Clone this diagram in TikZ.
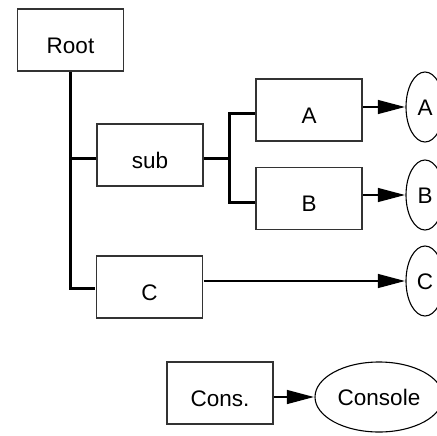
\documentclass[tikz,border=0pt]{standalone}
\usepackage{fontspec}
\setmainfont{Liberation Sans}
\usetikzlibrary{arrows.meta,shapes.geometric}

% the drawing is laid out in units of 1pt and enlarged twice over;
% line widths and tips are given at the enlarged size
\tikzset{
  box/.style={draw=black!80, line width=2.4pt, rectangle, inner sep=0pt,
    minimum width=106pt, minimum height=62pt,
    text height=26.6pt, text depth=0pt},
  oval/.style={draw=black, line width=2.2pt, ellipse, inner sep=0pt,
    minimum width=38pt, minimum height=70pt,
    text height=16pt, text depth=0pt},
  tree/.style={draw=black, line width=6pt, line join=miter},
  link/.style={draw=black, line width=2.4pt,
    -{Triangle[length=54pt, width=28pt]}}
}

\begin{document}
\begin{tikzpicture}[x=1pt, y=-1pt, scale=2,
    every node/.style={transform shape, font=\fontsize{22.5pt}{27pt}\selectfont}]
  \useasboundingbox (0,0) rectangle (437,435);

  % boxes
  \node[box] (root) at (70.5,40)  {Root};
  \node[box] (sub)  at (150,155)  {sub};
  \node[box] (A)    at (309,110)  {A};
  \node[box] (B)    at (309,198.5){B};
  \node[box] (C)    at (149.5,287){C};
  \node[box] (cons) at (220,393)  {Cons.};

  % ovals on the right
  \node[oval] (eA) at (425,107) {A};
  \node[oval] (eB) at (425,195) {B};
  \node[oval] (eC) at (425,281) {C};
  \node[oval, minimum width=128pt] (eCons) at (379,397) {Console};

  % attachment points of the tree
  \coordinate (subIn)  at ([yshift=-36pt]sub.north west);
  \coordinate (subOut) at ([yshift=-36pt]sub.north east);
  \coordinate (aIn)    at ([yshift=-36pt]A.north west);
  \coordinate (bIn)    at ([yshift=-36pt]B.north west);
  \coordinate (cIn)    at ([yshift=-34pt]C.north west);
  \coordinate (fork)   at (229,0);

  % tree connectors
  \draw[tree] (root.south) |- (cIn);
  \draw[tree] (root.south |- subIn) -- (subIn);
  \draw[tree] (subOut) -- (fork |- subOut);
  \draw[tree] (aIn) -- (fork |- aIn) -- (fork |- bIn) -- (bIn);

  % arrows to the ovals
  \draw[link] (A.east |- eA.center) -- (eA.west);
  \draw[link] (B.east |- eB.center) -- (eB.west);
  \draw[link] (C.east |- eC.center) -- (eC.west);
  \draw[link] (cons.east |- eCons.center) -- (eCons.west);
\end{tikzpicture}
\end{document}
